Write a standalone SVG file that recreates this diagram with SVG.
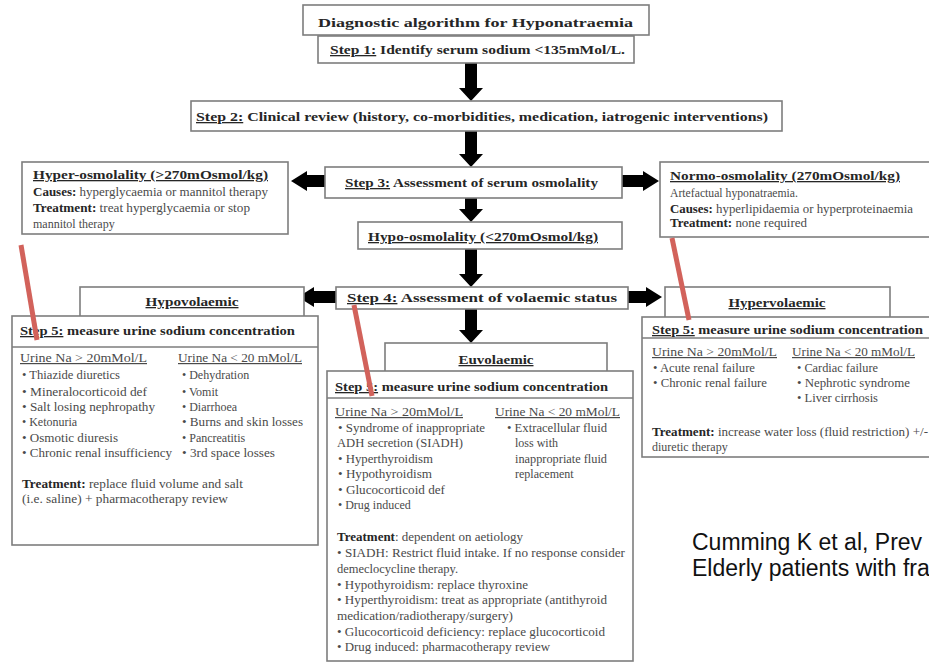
<svg xmlns="http://www.w3.org/2000/svg" width="929" height="664" viewBox="0 0 929 664">
<style>
.box{fill:#fff;stroke:#7d7d7d;stroke-width:1.6}
.sep{stroke:#7d7d7d;stroke-width:1.4}
.t{font-family:"Liberation Serif","Times New Roman",serif;font-size:12px;fill:#4a4a4a}
.b{font-weight:bold;fill:#262626}
.h{font-family:"Liberation Serif","Times New Roman",serif;font-size:13px;font-weight:bold;fill:#262626}
.u{text-decoration:underline}
.arr{fill:#000}
.red{stroke:#d2625b;stroke-width:5;fill:none}
.cite{font-family:"Liberation Sans",Arial,sans-serif;font-size:23px;fill:#111}
</style>
<rect width="929" height="664" fill="#fff"/>

<g id="connectors">
  <polygon class="arr" points="465,63 477,63 477,88 483,88 471,101 459,88 465,88"/>
  <polygon class="arr" points="465,131 477,131 477,154 483,154 471,167 459,154 465,154"/>
  <polygon class="arr" points="465,198 477,198 477,209 483,209 471,222 459,209 465,209"/>
  <polygon class="arr" points="465,249 477,249 477,274 483,274 471,287 459,274 465,274"/>
  <polygon class="arr" points="465,309 477,309 477,330 483,330 471,343 459,330 465,330"/>
  <polygon class="arr" points="325,175 307,175 307,171 291,181 307,191 307,187 325,187"/>
  <polygon class="arr" points="622,175 643,175 643,171 659,181 643,191 643,187 622,187"/>
  <polygon class="arr" points="336,291 314,291 314,287 298,297 314,307 314,303 336,303"/>
  <polygon class="arr" points="628,291 646,291 646,287 662,297 646,307 646,303 628,303"/>
</g>

<g id="title">
  <rect class="box" x="303" y="5" width="346" height="30"/>
  <text class="h" x="318" y="27" font-size="18" textLength="315" lengthAdjust="spacingAndGlyphs">Diagnostic algorithm for Hyponatraemia</text>
</g>

<g id="step1">
  <rect class="box" x="318" y="36" width="316" height="27"/>
  <text class="h" x="330" y="54" textLength="295" lengthAdjust="spacingAndGlyphs"><tspan class="u">Step 1:</tspan> Identify  serum sodium  &lt;135mMol/L.</text>
</g>

<g id="step2">
  <rect class="box" x="191" y="101" width="591" height="30"/>
  <text class="h" x="196" y="121" textLength="572" lengthAdjust="spacingAndGlyphs"><tspan class="u">Step 2:</tspan> Clinical  review (history,  co-morbidities,  medication,  iatrogenic  interventions)</text>
</g>

<g id="step3">
  <rect class="box" x="325" y="167" width="297" height="31"/>
  <text class="h" x="345" y="187" textLength="253" lengthAdjust="spacingAndGlyphs"><tspan class="u">Step 3:</tspan> Assessment of serum  osmolality</text>
</g>

<g id="hyperosm">
  <rect class="box" x="22" y="162" width="266" height="72"/>
  <text class="h u" x="33" y="179" font-size="12.5" textLength="235" lengthAdjust="spacingAndGlyphs">Hyper-osmolality  (&gt;270mOsmol/kg)</text>
  <text class="t" x="33" y="196" font-size="11" textLength="235" lengthAdjust="spacingAndGlyphs"><tspan class="b">Causes:</tspan> hyperglycaemia  or  mannitol  therapy</text>
  <text class="t" x="33" y="212" font-size="11" textLength="217" lengthAdjust="spacingAndGlyphs"><tspan class="b">Treatment:</tspan>  treat hyperglycaemia  or stop</text>
  <text class="t" x="33" y="228" font-size="11">mannitol therapy</text>
</g>

<g id="normoosm">
  <rect class="box" x="660" y="162" width="275" height="75"/>
  <text class="h u" x="670" y="180" font-size="12.5" textLength="230" lengthAdjust="spacingAndGlyphs">Normo-osmolality  (270mOsmol/kg)</text>
  <text class="t" x="670" y="197" font-size="11" textLength="128" lengthAdjust="spacingAndGlyphs">Artefactual hyponatraemia.</text>
  <text class="t" x="670" y="213" font-size="11" textLength="243" lengthAdjust="spacingAndGlyphs"><tspan class="b">Causes:</tspan> hyperlipidaemia  or hyperproteinaemia</text>
  <text class="t" x="670" y="227" font-size="11" textLength="137" lengthAdjust="spacingAndGlyphs"><tspan class="b">Treatment:</tspan>  none required</text>
</g>

<g id="hypoosm">
  <rect class="box" x="358" y="222" width="264" height="27"/>
  <text class="h u" x="368" y="241" textLength="230" lengthAdjust="spacingAndGlyphs">Hypo-osmolality  (&lt;270mOsmol/kg)</text>
</g>

<g id="step4">
  <rect class="box" x="336" y="287" width="292" height="22"/>
  <text class="h" x="347" y="302" textLength="270" lengthAdjust="spacingAndGlyphs"><tspan class="u">Step 4:</tspan> Assessment of volaemic status</text>
</g>

<g id="hypovol">
  <rect class="box" x="80" y="287" width="224" height="50"/>
  <text class="h u" x="192" y="306" text-anchor="middle" textLength="93" lengthAdjust="spacingAndGlyphs">Hypovolaemic</text>
</g>

<g id="euvol">
  <rect class="box" x="385" y="343" width="222" height="50"/>
  <text class="h u" x="496" y="364" text-anchor="middle" textLength="75" lengthAdjust="spacingAndGlyphs">Euvolaemic</text>
</g>

<g id="hypervol">
  <rect class="box" x="665" y="287" width="225" height="50"/>
  <text class="h u" x="777" y="307" text-anchor="middle" textLength="97" lengthAdjust="spacingAndGlyphs">Hypervolaemic</text>
</g>

<g id="step5-hypo">
  <rect class="box" x="12" y="316" width="306" height="229"/>
  <line class="sep" x1="12" y1="347" x2="318" y2="347"/>
  <text class="h" x="20" y="335" textLength="275" lengthAdjust="spacingAndGlyphs"><tspan class="u">Step 5:</tspan> measure urine  sodium concentration</text>
  <text class="t u" x="20" y="362" fill="#333" textLength="127" lengthAdjust="spacingAndGlyphs">Urine Na &gt; 20mMol/L</text>
  <text class="t u" x="178" y="362" fill="#333" textLength="124" lengthAdjust="spacingAndGlyphs">Urine Na &lt; 20 mMol/L</text>
  <text class="t" x="22" y="379" textLength="98" lengthAdjust="spacingAndGlyphs">• Thiazide diuretics</text>
  <text class="t" x="22" y="396" textLength="125" lengthAdjust="spacingAndGlyphs">• Mineralocorticoid def</text>
  <text class="t" x="22" y="411" textLength="133" lengthAdjust="spacingAndGlyphs">• Salt losing nephropathy</text>
  <text class="t" x="22" y="426">• Ketonuria</text>
  <text class="t" x="22" y="442" textLength="96" lengthAdjust="spacingAndGlyphs">• Osmotic diuresis</text>
  <text class="t" x="22" y="457" textLength="150" lengthAdjust="spacingAndGlyphs">• Chronic renal insufficiency</text>
  <text class="t" x="182" y="379">• Dehydration</text>
  <text class="t" x="182" y="396">• Vomit</text>
  <text class="t" x="182" y="411">• Diarrhoea</text>
  <text class="t" x="182" y="426" textLength="121" lengthAdjust="spacingAndGlyphs">• Burns and skin losses</text>
  <text class="t" x="182" y="442">• Pancreatitis</text>
  <text class="t" x="182" y="457" textLength="93" lengthAdjust="spacingAndGlyphs">• 3rd space losses</text>
  <text class="t" x="22" y="488" textLength="221" lengthAdjust="spacingAndGlyphs"><tspan class="b">Treatment:</tspan>  replace fluid volume and salt</text>
  <text class="t" x="22" y="503" textLength="206" lengthAdjust="spacingAndGlyphs">(i.e. saline) + pharmacotherapy review</text>
</g>

<g id="step5-euvol">
  <rect class="box" x="327" y="371" width="306" height="290"/>
  <line class="sep" x1="327" y1="398" x2="633" y2="398"/>
  <text class="h" x="335" y="391" textLength="273" lengthAdjust="spacingAndGlyphs"><tspan class="u">Step 5:</tspan> measure urine  sodium concentration</text>
  <text class="t u" x="335" y="416" fill="#333" textLength="128" lengthAdjust="spacingAndGlyphs">Urine Na &gt; 20mMol/L</text>
  <text class="t u" x="495" y="416" fill="#333" textLength="125" lengthAdjust="spacingAndGlyphs">Urine Na &lt; 20 mMol/L</text>
  <text class="t" x="338" y="432" textLength="147" lengthAdjust="spacingAndGlyphs">• Syndrome of inappropriate</text>
  <text class="t" x="337" y="447" textLength="126" lengthAdjust="spacingAndGlyphs">ADH secretion (SIADH)</text>
  <text class="t" x="338" y="463" textLength="95" lengthAdjust="spacingAndGlyphs">• Hyperthyroidism</text>
  <text class="t" x="338" y="478" textLength="94" lengthAdjust="spacingAndGlyphs">• Hypothyroidism</text>
  <text class="t" x="338" y="494" textLength="107" lengthAdjust="spacingAndGlyphs">• Glucocorticoid def</text>
  <text class="t" x="338" y="509">• Drug induced</text>
  <text class="t" x="507" y="432" textLength="100" lengthAdjust="spacingAndGlyphs">• Extracellular  fluid</text>
  <text class="t" x="515" y="447">loss with</text>
  <text class="t" x="515" y="463" textLength="92" lengthAdjust="spacingAndGlyphs">inappropriate fluid</text>
  <text class="t" x="515" y="478">replacement</text>
  <text class="t" x="337" y="541" textLength="186" lengthAdjust="spacingAndGlyphs"><tspan class="b">Treatment</tspan>:  dependent on aetiology</text>
  <text class="t" x="337" y="557" font-size="11" textLength="288" lengthAdjust="spacingAndGlyphs">• SIADH: Restrict fluid  intake.  If no response consider</text>
  <text class="t" x="337" y="573" font-size="11" textLength="121" lengthAdjust="spacingAndGlyphs">demeclocycline  therapy.</text>
  <text class="t" x="337" y="589" font-size="11" textLength="191" lengthAdjust="spacingAndGlyphs">• Hypothyroidism: replace thyroxine</text>
  <text class="t" x="337" y="604" font-size="11" textLength="270" lengthAdjust="spacingAndGlyphs">• Hyperthyroidism: treat as appropriate (antithyroid</text>
  <text class="t" x="337" y="620" font-size="11" textLength="176" lengthAdjust="spacingAndGlyphs">medication/radiotherapy/surgery)</text>
  <text class="t" x="337" y="636" font-size="11" textLength="268" lengthAdjust="spacingAndGlyphs">• Glucocorticoid  deficiency:  replace glucocorticoid</text>
  <text class="t" x="337" y="651" font-size="11" textLength="213" lengthAdjust="spacingAndGlyphs">• Drug induced: pharmacotherapy review</text>
</g>

<g id="step5-hyper">
  <rect class="box" x="642" y="317" width="293" height="140"/>
  <line class="sep" x1="642" y1="338" x2="935" y2="338"/>
  <text class="h" x="652" y="334" textLength="271" lengthAdjust="spacingAndGlyphs"><tspan class="u">Step 5:</tspan> measure urine sodium concentration</text>
  <text class="t u" x="652" y="356" fill="#333" textLength="125" lengthAdjust="spacingAndGlyphs">Urine Na &gt; 20mMol/L</text>
  <text class="t u" x="792" y="356" fill="#333" textLength="123" lengthAdjust="spacingAndGlyphs">Urine Na &lt; 20 mMol/L</text>
  <text class="t" x="653" y="372" textLength="102" lengthAdjust="spacingAndGlyphs">• Acute renal failure</text>
  <text class="t" x="653" y="387" textLength="114" lengthAdjust="spacingAndGlyphs">• Chronic renal failure</text>
  <text class="t" x="797" y="372" textLength="81" lengthAdjust="spacingAndGlyphs">• Cardiac failure</text>
  <text class="t" x="797" y="387" textLength="113" lengthAdjust="spacingAndGlyphs">• Nephrotic syndrome</text>
  <text class="t" x="797" y="402" textLength="81" lengthAdjust="spacingAndGlyphs">• Liver cirrhosis</text>
  <text class="t" x="652" y="436" textLength="276" lengthAdjust="spacingAndGlyphs"><tspan class="b">Treatment:</tspan> increase water loss (fluid restriction) +/-</text>
  <text class="t" x="652" y="451" font-size="11">diuretic therapy</text>
</g>

<g id="annotations">
  <line class="red" x1="21" y1="245" x2="37" y2="340"/>
  <line class="red" x1="354" y1="305" x2="372" y2="396"/>
  <line class="red" x1="672" y1="238" x2="689" y2="320"/>
</g>

<g id="citation">
  <text class="cite" x="692" y="550">Cumming K et al, Prev</text>
  <text class="cite" x="692" y="576">Elderly patients with fra</text>
</g>
</svg>
